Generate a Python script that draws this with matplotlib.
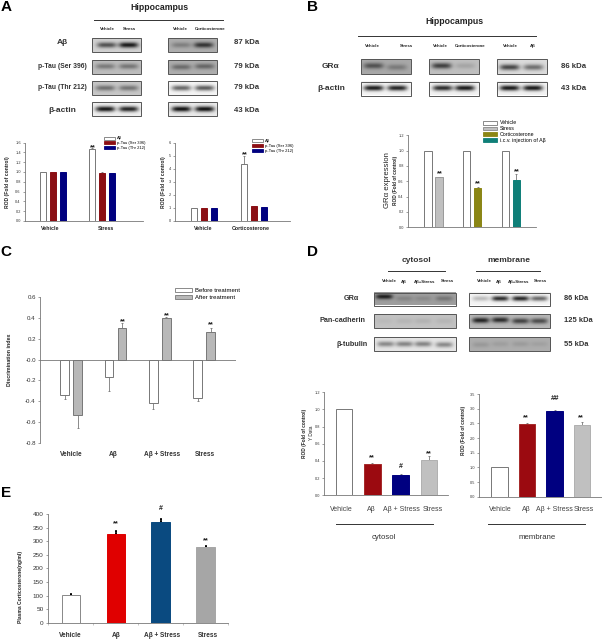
import numpy as np
import matplotlib
matplotlib.use('Agg')
import matplotlib.pyplot as plt
from matplotlib.patches import Patch, Rectangle

plt.rcParams['font.family'] = ['Liberation Sans', 'DejaVu Sans']

# --- chart values ---
a_series = ['Aβ', 'p-Tau (Ser 396)', 'p-Tau (Thr 212)']
a1_groups = ['Vehicle', 'Stress']
a1_vals = [[1.0, 1.47], [1.0, 0.97], [1.0, 0.97]]
a1_errs = [[0, 0.01], [0, 0.02], [0, 0.01]]
a2_groups = ['Vehicle', 'Corticosterone']
a2_vals = [[1.0, 4.35], [1.0, 1.12], [1.0, 1.05]]
a2_errs = [[0, 0.65], [0, 0.03], [0, 0.02]]

b_legend = ['Vehicle', 'Stress', 'Corticosterone', 'i.c.v. injection of Aβ']
b_ctrl = [1.0, 1.0, 1.0]
b_vals = [0.65, 0.51, 0.62]
b_errs = [0.01, 0.02, 0.08]

c_groups = ['Vehicle', 'Aβ', 'Aβ + Stress', 'Stress']
c_before = [-0.34, -0.17, -0.42, -0.37]
c_before_err = [0.04, 0.13, 0.06, 0.03]
c_after = [-0.53, 0.30, 0.40, 0.27]
c_after_err = [0.13, 0.05, 0.01, 0.03]

d_groups = ['Vehicle', 'Aβ', 'Aβ + Stress', 'Stress']
d1_vals = [1.0, 0.36, 0.235, 0.41]
d1_errs = [0, 0.02, 0.01, 0.05]
d2_vals = [1.0, 2.47, 2.93, 2.46]
d2_errs = [0, 0.04, 0.03, 0.08]

e_groups = ['Vehicle', 'Aβ', 'Aβ + Stress', 'Stress']
e_vals = [102, 327, 372, 278]
e_errs = [2, 12, 8, 3]

# blot bands: (centre x, centre y, darkness) inside the blot, background grey
blots = [
    # panel A
    (92, 38, 141, 52, 0.82, [(.3, .5, .5), (.75, .5, .72)]),
    (168, 38, 217, 52, 0.68, [(.27, .5, .18), (.73, .5, .48)]),
    (92, 60, 141, 74, 0.74, [(.27, .45, .26), (.75, .45, .28)]),
    (168, 60, 217, 74, 0.68, [(.27, .5, .26), (.75, .45, .28)]),
    (92, 81, 141, 95, 0.78, [(.27, .5, .34), (.75, .5, .32)]),
    (168, 81, 217, 95, 0.96, [(.27, .5, .55), (.75, .5, .6)]),
    (92, 102, 141, 116, 0.94, [(.27, .5, .85), (.75, .5, .8)]),
    (168, 102, 217, 116, 0.92, [(.27, .5, .85), (.75, .5, .85)]),
    # panel B
    (361, 59, 411, 74, 0.66, [(.25, .45, .34), (.72, .55, .18)]),
    (429, 59, 479, 74, 0.75, [(.25, .45, .5), (.73, .45, .1)]),
    (497, 59, 547, 74, 0.86, [(.25, .55, .58), (.73, .55, .42)]),
    (361, 81.5, 411, 95.5, 0.96, [(.25, .5, .85), (.73, .5, .82)]),
    (429, 81.5, 479, 95.5, 0.95, [(.27, .5, .78), (.72, .5, .85)]),
    (497, 81.5, 547, 95.5, 0.95, [(.25, .5, .85), (.72, .5, .85)]),
    # panel D
    (374, 292.5, 456, 305.5, 0.62, [(.12, .35, .5), (.37, .5, .1), (.6, .5, .08), (.86, .5, .16)]),
    (468.5, 292.5, 550, 305.5, 0.96, [(.14, .5, .22), (.38, .5, .78), (.63, .5, .8), (.86, .5, .55)]),
    (374, 314, 456, 328, 0.76, [(.12, .5, .03), (.37, .5, .05), (.6, .5, .06), (.86, .5, .05)]),
    (468.5, 314, 550, 328, 0.72, [(.14, .45, .58), (.38, .42, .55), (.63, .5, .46), (.86, .5, .42)]),
    (374, 337, 456, 351, 0.90, [(.14, .5, .36), (.37, .5, .38), (.6, .5, .38), (.86, .55, .36)]),
    (468.5, 337, 550, 351, 0.68, [(.14, .55, .08), (.38, .5, .06), (.63, .5, .07), (.86, .5, .05)]),
]

fig = plt.figure(figsize=(6.02, 6.4), dpi=100)
W, H = 602.0, 640.0

# overlay in picture pixels for the blots and the loose text
bg = fig.add_axes([0, 0, 1, 1], zorder=0)
bg.axis('off')
# stars and hashes go on their own overlay so they sit above the bars
top = fig.add_axes([0, 0, 1, 1], zorder=5)
top.axis('off')
top.patch.set_alpha(0)


def txt(x, y, s, size=4.5, bold=False, color='#222222', ha='center', rot=0):
    bg.text(x, y, s, fontsize=size, fontweight='bold' if bold else 'normal',
            color=color, ha=ha, va='center', rotation=rot)


def star(x, y, s='**', size=5.4):
    top.text(x, y + 1.8 if '*' in s else y, s, fontsize=size, fontweight='bold',
             color='#222222', ha='center', va='center')


def rule(x0, x1, y):
    bg.plot([x0, x1], [y, y], color='#333333', lw=0.7)


def draw_blot(x0, y0, x1, y1, grey, bands):
    yy, xx = np.mgrid[0:1:40j, 0:1:80j]
    img = np.full(xx.shape, grey)
    sx = 0.2 if len(bands) == 2 else 0.105
    for cx, cy, dark in bands:
        img = img - dark * np.exp(-((xx - cx) / sx) ** 4 - ((yy - cy) / 0.2) ** 2)
    bg.imshow(np.clip(img, 0, 1), cmap='gray', vmin=0, vmax=1, aspect='auto',
              extent=(x0, x1, y1, y0), interpolation='bilinear')
    bg.add_patch(Rectangle((x0, y0), x1 - x0, y1 - y0, fill=False, ec='#555555', lw=0.7))


def bar_axes(x0, x1, ytop, ybot, ymin, ymax, ticks, fmt, c0, sp, tsize=3.0):
    ax = fig.add_axes([x0 / W, 1 - ybot / H, (x1 - x0) / W, (ybot - ytop) / H], zorder=2)
    ax.patch.set_alpha(0)
    ax.set_xlim((x0 - c0) / sp, (x1 - c0) / sp)
    ax.set_ylim(ymin, ymax)
    ax.set_yticks(ticks)
    ax.set_yticklabels([fmt % t for t in ticks], fontsize=tsize, color='#333333')
    ax.set_xticks([])
    ax.tick_params(axis='y', length=1.5, width=0.5, pad=1.5, color='#777777')
    for s in ['top', 'right']:
        ax.spines[s].set_visible(False)
    for s in ['left', 'bottom']:
        ax.spines[s].set_linewidth(0.6)
        ax.spines[s].set_color('#777777')
    return ax


def bars(ax, x, vals, errs, width, color, edge, lw=0.7, ecolor='#777777', elw=0.6):
    ax.bar(x, vals, width, color=color, edgecolor=edge, linewidth=lw, zorder=3)
    signs = np.sign(vals)
    lo = [e if s < 0 else 0 for e, s in zip(errs, signs)]
    hi = [e if s > 0 else 0 for e, s in zip(errs, signs)]
    keep = np.array(errs) > 0
    ax.errorbar(np.array(x)[keep], np.array(vals)[keep],
                yerr=[np.array(lo)[keep], np.array(hi)[keep]], fmt='none',
                ecolor=ecolor, elinewidth=elw, capsize=1.0, capthick=elw, zorder=2)


def legend(x, y, labels, colors, edges, size, hlen, spacing):
    handles = [Patch(facecolor=c, edgecolor=e, linewidth=0.6, label=l)
               for l, c, e in zip(labels, colors, edges)]
    fig.legend(handles=handles, loc='upper left', bbox_to_anchor=(x / W, 1 - y / H),
               frameon=False, fontsize=size, handlelength=hlen, handleheight=0.7,
               labelspacing=spacing, borderpad=0, borderaxespad=0, handletextpad=0.5)


for b in blots:
    draw_blot(*b)

# panel letters
for x, y, s in [(6, 7, 'A'), (313, 7, 'B'), (6, 252, 'C'), (313, 252, 'D'), (6, 493, 'E')]:
    txt(x, y, s, size=11, bold=True, color='black')

# --- A ---
txt(159, 8, 'Hippocampus', 6.3, True)
rule(94, 223, 19.5)
for x, s in [(107, 'Vehicle'), (129, 'Stress'), (180, 'Vehicle'), (210, 'Corticosterone')]:
    txt(x, 29, s, 3.2, True)
for y, s, k in [(43, 'Aβ', '87 kDa'), (66, 'p-Tau (Ser 396)', '79 kDa'),
                (87.5, 'p-Tau (Thr 212)', '79 kDa'), (110, 'β-actin', '43 kDa')]:
    txt(62, y, s, 4.9 if 'Tau' in s else 6, True, color='#333333')
    txt(234, y, k, 5.6, True, ha='left', color='#333333')

a_colors = ['white', '#8b0f14', '#00007f']
a_edges = ['#777777', '#8b0f14', '#00007f']
ax = bar_axes(25, 143, 142.5, 221, 0, 1.6, np.arange(0, 1.61, 0.2), '%.1f', 53, 49.4, 2.8)
for j in range(3):
    bars(ax, np.arange(2) + (j - 1) * 10 / 49.4, a1_vals[j], a1_errs[j], 6 / 49.4, a_colors[j], a_edges[j])
txt(7.5, 182, 'ROD (Fold of control)', 3.6, True, rot=90)
txt(50, 229, a1_groups[0], 3.8, True)
txt(106, 229, a1_groups[1], 3.8, True)
star(92.5, 146)
legend(104, 136.5, a_series, a_colors, a_edges, 3.0, 2.6, 0.2)

ax = bar_axes(175, 290, 142.5, 221, 0, 6, np.arange(0, 7), '%d', 204.3, 49.7, 2.8)
for j in range(3):
    bars(ax, np.arange(2) + (j - 1) * 10 / 49.7, a2_vals[j], a2_errs[j], 6 / 49.7, a_colors[j], a_edges[j])
txt(163, 182, 'ROD (Fold of control)', 3.6, True, rot=90)
txt(203.5, 229, a2_groups[0], 3.8, True)
txt(251, 229, a2_groups[1], 3.8, True)
star(244.5, 152.7)
legend(252, 139.3, a_series, a_colors, a_edges, 3.0, 2.6, 0.2)

# --- B ---
txt(454, 21, 'Hippocampus', 6.3, True)
rule(358, 536, 36)
for x, s in [(372.5, 'Vehicle'), (406, 'Stress'), (440, 'Vehicle'),
             (470, 'Corticosterone'), (510.5, 'Vehicle'), (532.5, 'Aβ')]:
    txt(x, 46, s, 3.2, True)
txt(331, 67, 'GRα', 6, True, color='#333333')
txt(331, 88.5, 'β-actin', 6, True, color='#333333')
txt(561, 67, '86 kDa', 5.6, True, ha='left', color='#333333')
txt(561, 88.5, '43 kDa', 5.6, True, ha='left', color='#333333')

b_colors = ['#c0c0c0', '#8b8615', '#0f7f78']
ax = bar_axes(408, 536, 135.3, 227.3, 0, 1.2, np.arange(0, 1.21, 0.2), '%.1f', 433.5, 38.7, 2.8)
xs = np.arange(3)
bars(ax, xs - 5.5 / 38.7, b_ctrl, [0, 0, 0], 7.4 / 38.7, 'white', '#777777')
for i in range(3):
    edge = '#999999' if i == 0 else b_colors[i]
    bars(ax, [xs[i] + 5.5 / 38.7], [b_vals[i]], [b_errs[i]], 7.4 / 38.7, b_colors[i], edge)
txt(387.7, 180, 'GRα expression', 5.6, False, rot=90)
txt(395, 180, 'ROD (Fold of control)', 3.4, True, rot=90)
star(439.5, 172)
star(478, 182)
star(516.5, 170)
legend(483.3, 120.5, b_legend, ['white', '#c0c0c0', '#8b8615', '#0f7f78'],
       ['#777777', '#888888', '#8b8615', '#0f7f78'], 3.8, 2.6, 0.16)

# --- C ---
ax = bar_axes(40, 236, 297.3, 442.7, -0.8, 0.6, np.arange(-0.8, 0.61, 0.2), '%.1f', 71, 44.4, 4.4)
ax.spines['bottom'].set_visible(False)
ax.axhline(0, color='#777777', lw=0.6, zorder=4)
xs = np.arange(4)
bars(ax, xs - 6.5 / 44.4, c_before, c_before_err, 8.8 / 44.4, 'white', '#777777')
bars(ax, xs + 6.5 / 44.4, c_after, c_after_err, 8.8 / 44.4, '#b8b8b8', '#777777')
txt(9.5, 360, 'Discrimination index', 3.8, True, rot=90)
for x, s in zip([71.7, 113, 162, 205], c_groups):
    txt(x, 454.7, s, 4.7, True, color='#333333')
star(122.5, 320)
star(167, 314)
star(211, 323)
legend(174.7, 287.7, ['Before treatment', 'After treatment'], ['white', '#b8b8b8'],
       ['#777777', '#777777'], 4.3, 2.9, 0.32)

# --- D ---
txt(416, 260, 'cytosol', 6, True, color='#333333')
txt(509, 261, 'membrane', 6, True, color='#333333')
rule(388, 445, 271.3)
rule(475.5, 540, 271.3)
for xs_d in ([389, 404, 424.5, 447], [484, 499, 518.5, 540]):
    for x, s in zip(xs_d, ['Vehicle', 'Aβ', 'Aβ+Stress', 'Stress']):
        txt(x, 281.5, s, 3.2, True)
txt(351.5, 299, 'GRα', 5.2, True, color='#333333')
txt(343, 321, 'Pan-cadherin', 5.2, True, color='#333333')
txt(352, 344, 'β-tubulin', 5.2, True, color='#333333')
for y, k in [(299, '86 kDa'), (321, '125 kDa'), (344, '55 kDa')]:
    txt(564, y, k, 5.4, True, ha='left', color='#333333')

d_colors = ['white', '#9b0a10', '#000080', '#c0c0c0']
d_edges = ['#777777', '#a52a2a', '#000080', '#b0b0b0']
ax = bar_axes(324.3, 448, 392.3, 495.3, 0, 1.2, np.arange(0, 1.21, 0.2), '%.1f', 344, 28.3, 2.8)
bars(ax, np.arange(4), d1_vals, d1_errs, 16.8 / 28.3, d_colors, d_edges)
txt(304.5, 433, 'ROD (Fold of control)', 3.4, True, rot=90)
txt(311.5, 433, 'Y Data', 3.4, False, rot=90)
for x, s in zip([341, 371, 401, 433], d_groups):
    txt(x, 509.3, s, 5, False, color='#444444')
rule(336, 433, 524.3)
txt(384, 537.5, 'cytosol', 5.6, False, color='#333333')
star(372, 456)
star(400.5, 466, '#', 5)
star(429, 452)

ax = bar_axes(479, 601.7, 394, 496.7, 0, 3.5, np.arange(0, 3.51, 0.5), '%.1f', 499.5, 27.5, 2.8)
bars(ax, np.arange(4), d2_vals, d2_errs, 16.8 / 27.5, d_colors, d_edges)
txt(463, 430, 'ROD (Fold of control)', 3.4, True, rot=90)
for x, s in zip([500, 526, 554.5, 584], d_groups):
    txt(x, 509.3, s, 5, False, color='#444444')
rule(487.5, 585, 524.3)
txt(537, 537.5, 'membrane', 5.6, False, color='#333333')
star(526, 416)
star(554.7, 398.7, '##', 5.5)
star(581, 416)

# --- E ---
e_colors = ['white', '#e00000', '#0a4a80', '#a6a6a6']
e_edges = ['#888888', '#e00000', '#0a4a80', '#a6a6a6']
ax = bar_axes(47.7, 228, 514, 622.7, 0, 400, np.arange(0, 401, 50), '%d', 70.8, 45, 4.6)
bars(ax, np.arange(4), e_vals, e_errs, 18.3 / 45, e_colors, e_edges, ecolor='black', elw=1.2)
ax.set_xticks(np.arange(5) - 0.5)
ax.set_xticklabels([])
ax.tick_params(axis='x', length=1.5, width=0.4, color='#999999')
txt(21, 587, 'Plasma Corticosterone(ng/ml)', 3.6, True, rot=90)
for x, s in zip([70, 116, 162, 208], e_groups):
    txt(x, 635.3, s, 4.7, True, color='#333333')
star(115.5, 522)
star(161, 509, '#', 5)
star(206, 539)

for a in (bg, top):
    a.set_xlim(0, W)
    a.set_ylim(H, 0)
fig.savefig('out.png', dpi=100)
